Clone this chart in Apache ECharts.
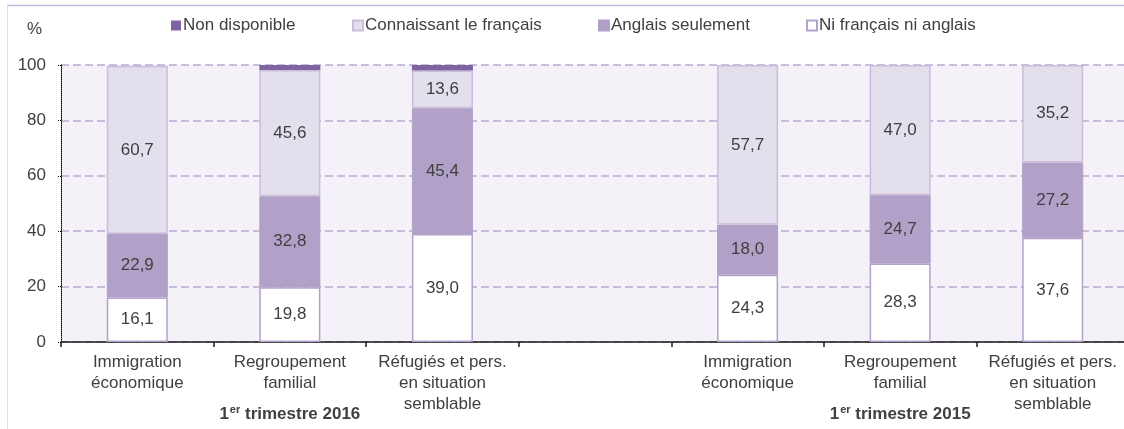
<!DOCTYPE html>
<html>
<head>
<meta charset="utf-8">
<script src="https://cdn.jsdelivr.net/npm/echarts@6/dist/echarts.min.js"></script>
<style>
  html, body { margin: 0; padding: 0; background: #ffffff; }
  #chart { width: 1124px; height: 429px; }
</style>
</head>
<body>
<div id="chart"></div>
<script>
// categories (index 3 is the empty gap between the two periods)
var categories = [
  'Immigration\néconomique', 'Regroupement\nfamilial', 'Réfugiés et pers.\nen situation\nsemblable',
  '',
  'Immigration\néconomique', 'Regroupement\nfamilial', 'Réfugiés et pers.\nen situation\nsemblable'
];
// period label drawn under the middle category of each group
var periodYears = { 1: '2016', 5: '2015' };

var niFrancaisNiAnglais = [16.1, 19.8, 39.0, '-', 24.3, 28.3, 37.6];
var anglaisSeulement = [22.9, 32.8, 45.4, '-', 18.0, 24.7, 27.2];
var connaissantFrancais = [60.7, 45.6, 13.6, '-', 57.7, 47.0, 35.2];
var nonDisponible = [0, 1.8, 2.0, '-', 0, 0, 0];

var yTicks = { min: 0, max: 100, interval: 20 };

var FONT = 'Liberation Sans';
var TXT = '#404040';

function fmt(p) {
  return p.value.toFixed(1).replace('.', ',');
}

var chart = echarts.init(document.getElementById('chart'), null, { renderer: 'canvas' });

function legendItem(name, left) {
  return {
    data: [name],
    left: left,
    top: 17,
    padding: 0,
    itemWidth: 10,
    itemHeight: 10,
    itemGap: 0,
    icon: 'rect',
    selectedMode: false,
    textStyle: { fontFamily: FONT, fontSize: 17, color: TXT, padding: [0, 0, 0, -3] }
  };
}

var labelStyle = {
  show: true,
  position: 'inside',
  formatter: fmt,
  fontFamily: FONT,
  fontSize: 17,
  color: TXT
};

var option = {
  animation: false,
  backgroundColor: '#ffffff',
  textStyle: { fontFamily: FONT },
  title: {
    text: '%',
    left: 27,
    top: 21,
    padding: 0,
    textStyle: { fontFamily: FONT, fontSize: 17, fontWeight: 'normal', color: TXT }
  },
  legend: [
    legendItem('Non disponible', 171),
    legendItem('Connaissant le français', 352),
    legendItem('Anglais seulement', 598),
    legendItem('Ni français ni anglais', 806)
  ],
  grid: {
    left: 61,
    top: 65,
    width: 1068,
    height: 277,
    outerBoundsMode: 'none',
    containLabel: false,
    show: true,
    backgroundColor: '#f4f2f8',
    borderWidth: 0
  },
  xAxis: {
    type: 'category',
    data: categories,
    axisLine: { lineStyle: { color: '#1a1a1a', width: 1.5 } },
    axisTick: { show: true, length: 5, lineStyle: { color: '#1a1a1a', width: 1.5 } },
    axisLabel: {
      interval: 0,
      margin: 10,
      fontFamily: FONT,
      fontSize: 17,
      lineHeight: 21,
      color: TXT,
      formatter: function (value, idx) {
        if (periodYears[idx]) {
          return value + '\n{p|1}{s|er}{p| trimestre ' + periodYears[idx] + '}';
        }
        return value;
      },
      rich: {
        p: { fontFamily: FONT, fontSize: 17, fontWeight: 'bold', color: TXT, lineHeight: 41 },
        s: { fontFamily: FONT, fontSize: 11, fontWeight: 'bold', color: TXT, lineHeight: 11, padding: [0, 0, 9, 1] }
      }
    },
    splitLine: { show: false }
  },
  yAxis: {
    type: 'value',
    min: yTicks.min,
    max: yTicks.max,
    interval: yTicks.interval,
    axisLine: { show: true, lineStyle: { color: '#000000', width: 1, type: [1, 1] } },
    axisTick: { show: true, length: 4, lineStyle: { color: '#000000', width: 1, type: [1, 1] } },
    axisLabel: { margin: 15, fontFamily: FONT, fontSize: 17, color: TXT },
    splitLine: { show: true, lineStyle: { color: '#b9a9d1', width: 1.5, type: [8, 4] } }
  },
  series: [
    {
      name: 'Ni français ni anglais',
      type: 'bar',
      stack: 'total',
      barWidth: '40%',
      data: niFrancaisNiAnglais,
      itemStyle: { color: '#ffffff', borderColor: '#b3a2c9', borderWidth: 1.5 },
      label: labelStyle,
      emphasis: { disabled: true }
    },
    {
      name: 'Anglais seulement',
      type: 'bar',
      stack: 'total',
      data: anglaisSeulement,
      itemStyle: { color: '#b1a0c7', borderColor: '#b1a0c7', borderWidth: 1 },
      label: labelStyle,
      emphasis: { disabled: true }
    },
    {
      name: 'Connaissant le français',
      type: 'bar',
      stack: 'total',
      data: connaissantFrancais,
      itemStyle: { color: '#e4dfec', borderColor: '#c9bddb', borderWidth: 1.5 },
      label: labelStyle,
      emphasis: { disabled: true }
    },
    {
      name: 'Non disponible',
      type: 'bar',
      stack: 'total',
      data: nonDisponible,
      itemStyle: { color: '#8064a2' },
      label: { show: false },
      emphasis: { disabled: true }
    }
  ],
  graphic: [
    { type: 'line', shape: { x1: 7, y1: 5.5, x2: 1124, y2: 5.5 }, style: { stroke: '#c6b6da', lineWidth: 1.5 }, silent: true },
    { type: 'line', shape: { x1: 7.5, y1: 5, x2: 7.5, y2: 429 }, style: { stroke: '#e2dde9', lineWidth: 1 }, silent: true }
  ]
};

chart.setOption(option);
</script>
</body>
</html>
